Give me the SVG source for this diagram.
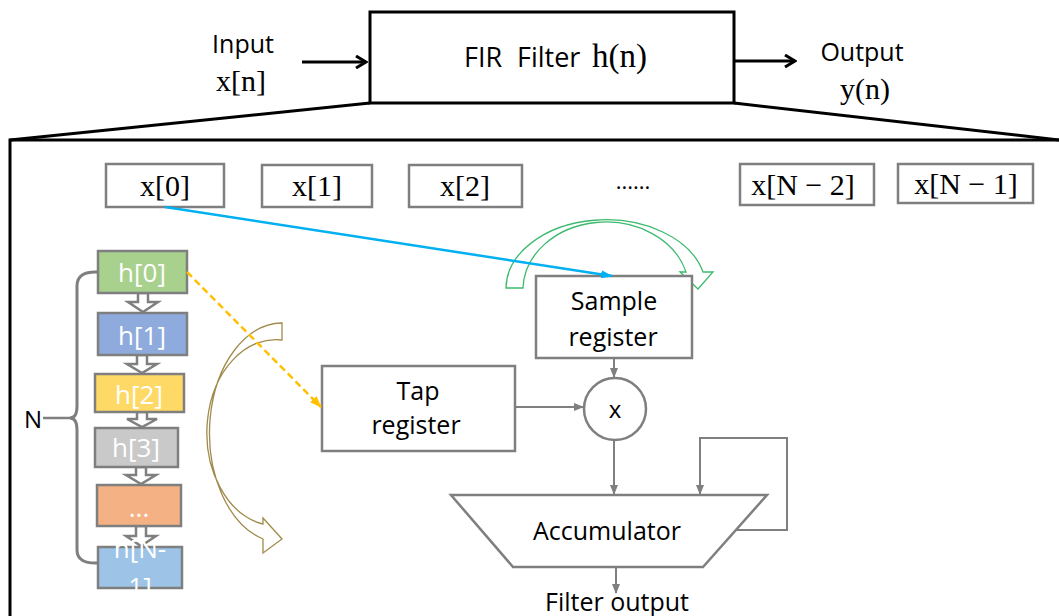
<svg xmlns="http://www.w3.org/2000/svg" width="1059" height="616" viewBox="0 0 1059 616">
<style>
.sans{font-family:"Open Sans","Liberation Sans",sans-serif;}
.serif{font-family:"Liberation Serif","DejaVu Serif",serif;}
.blk{fill:none;stroke:#000;stroke-width:3;}
.gbox{fill:#fff;stroke:#7f7f7f;stroke-width:2.5;}
.hbox{stroke:#7f7f7f;stroke-width:2.5;}
.gline{fill:none;stroke:#7f7f7f;stroke-width:2;}
.htxt{fill:#fff;font-size:26px;text-anchor:middle;}
.lbl{fill:#000;font-size:25px;text-anchor:middle;}
.xt{fill:#000;font-size:30px;text-anchor:middle;}
.blockarrow{fill:#fff;stroke:#7f7f7f;stroke-width:2.5;stroke-linejoin:miter;}
</style>
<defs>
<marker id="ag" markerWidth="10" markerHeight="8" refX="9" refY="4" orient="auto" markerUnits="userSpaceOnUse"><path d="M0,0 L10,4 L0,8 Z" fill="#7f7f7f"/></marker>
<marker id="ab" markerWidth="12" markerHeight="8" refX="11" refY="4" orient="auto" markerUnits="userSpaceOnUse"><path d="M0,0 L12,4 L0,8 Z" fill="#00b0f0"/></marker>
<marker id="ay" markerWidth="12" markerHeight="9" refX="11" refY="4.5" orient="auto" markerUnits="userSpaceOnUse"><path d="M0,0 L12,4.5 L0,9 Z" fill="#ffc000"/></marker>
<marker id="ak" markerWidth="14" markerHeight="14" refX="12" refY="7" orient="auto" markerUnits="userSpaceOnUse"><path d="M2,1 L12,7 L2,13" fill="none" stroke="#000" stroke-width="3"/></marker>
</defs>

<!-- outline / zoom lines -->
<g id="frame">
<path class="blk" d="M10,616 L10,140 L1059,140"/>
<path class="blk" d="M10,140 L370,103"/>
<path class="blk" d="M734,103 L1059,140"/>
</g>

<g id="fir">
<rect class="blk" x="370" y="12" width="364" height="91"/>
<text class="sans" font-size="27" fill="#000" y="67" xml:space="preserve"><tspan x="464">FIR  </tspan><tspan x="517">Filter </tspan><tspan class="serif" x="592" font-size="33">h(n)</tspan></text>
</g>
<g id="input">
<text class="sans lbl" x="243" y="53">Input</text>
<text class="serif xt" x="241" y="91">x[n]</text>
</g>
<g id="output">
<text class="sans lbl" x="862" y="61">Output</text>
<text class="serif xt" x="865" y="99">y(n)</text>
</g>

<g id="x0"><rect class="gbox" x="106" y="164" width="118" height="43"/><text class="serif xt" x="165" y="196">x[0]</text></g>
<g id="x1"><rect class="gbox" x="262" y="165" width="110" height="42"/><text class="serif xt" x="317" y="196">x[1]</text></g>
<g id="x2"><rect class="gbox" x="409" y="165" width="113" height="42"/><text class="serif xt" x="465" y="196">x[2]</text></g>
<g id="dots"><text class="sans" font-size="22" fill="#000" x="633" y="189" text-anchor="middle">......</text></g>
<g id="xN2"><rect class="gbox" x="740" y="164" width="134" height="41"/><text class="serif xt" x="803" y="195">x[N − 2]</text></g>
<g id="xN1"><rect class="gbox" x="898" y="164" width="135" height="39"/><text class="serif xt" x="966" y="194">x[N − 1]</text></g>

<g id="curved-arrows">
<path d="M506,288 A100,69 0 0 1 703,272 L713,272 L698,289 L680,272 L686,272 A83,68 0 0 0 523,288 Z" fill="none" stroke="#3dba6e" stroke-width="1.3"/>
<path d="M282,323 A73,110 0 0 0 263,539 L263,553 L282,539 L263,518 L263,524 A69,93 0 0 1 282,340 Z" fill="none" stroke="#a08b4c" stroke-width="1.3"/>
</g>

<g id="h-arrows">
<path class="blockarrow" d="M138,293 L148,293 L148,302 L158,302 L143,312 L128,302 L138,302 Z"/>
<path class="blockarrow" d="M137,355 L147,355 L147,364 L157,364 L142,373 L127,364 L137,364 Z"/>
<path class="blockarrow" d="M137,412 L147,412 L147,419 L157,419 L142,427 L127,419 L137,419 Z"/>
<path class="blockarrow" d="M136,467 L146,467 L146,475 L156,475 L141,484 L126,475 L136,475 Z"/>
<path class="blockarrow" d="M136,526 L146,526 L146,536 L156,536 L141,546 L126,536 L136,536 Z"/>
</g>

<g id="h0"><rect class="hbox" fill="#a9d18e" x="98" y="251" width="89" height="42"/><text class="sans htxt" x="142" y="282">h[0]</text></g>
<g id="h1"><rect class="hbox" fill="#8faadc" x="98" y="313" width="89" height="42"/><text class="sans htxt" x="142" y="345">h[1]</text></g>
<g id="h2"><rect class="hbox" fill="#ffd966" x="95" y="374" width="89" height="38"/><text class="sans htxt" x="139" y="404">h[2]</text></g>
<g id="h3"><rect class="hbox" fill="#c9c9c9" x="95" y="428" width="83" height="39"/><text class="sans htxt" x="136" y="457">h[3]</text></g>
<g id="hdots"><rect class="hbox" fill="#f4b183" x="97" y="485" width="84" height="41"/><text class="sans htxt" x="139" y="517">...</text></g>
<g id="hN1"><rect class="hbox" fill="#9dc3e6" x="98" y="547" width="84" height="41"/><text class="sans htxt" x="140" y="558">h[N-</text><text class="sans htxt" x="140" y="596">1]</text></g>

<g id="brace">
<path d="M98,272 Q77,271 77,286 L77,406 Q77,418 70,418 Q77,418 77,430 L77,550 Q77,564 98,563" fill="none" stroke="#7f7f7f" stroke-width="3"/>
<path d="M43,418 L72,418" fill="none" stroke="#7f7f7f" stroke-width="2.5"/>
<text class="sans" font-size="24" fill="#000" x="24" y="428">N</text>
</g>

<g id="tap"><rect class="gbox" x="322" y="366" width="193" height="85"/><text class="sans lbl" x="418" y="400">Tap</text><text class="sans lbl" x="416" y="434">register</text></g>
<g id="sample"><rect class="gbox" x="536" y="276" width="156" height="82"/><text class="sans lbl" x="614" y="310">Sample</text><text class="sans lbl" x="613" y="346">register</text></g>
<g id="mult"><circle class="gbox" cx="615" cy="409" r="31"/><text class="sans" font-size="24" fill="#000" x="615" y="418" text-anchor="middle">x</text></g>
<g id="acc"><path class="gbox" d="M451,495 L767,495 L703,567 L513,567 Z"/><text class="sans lbl" x="607" y="540">Accumulator</text></g>
<g id="fout"><text class="sans lbl" x="617" y="611">Filter output</text></g>

<g id="connectors">
<path class="blk" d="M302,62 L366,62" marker-end="url(#ak)"/>
<path class="blk" d="M733,61 L795,61" marker-end="url(#ak)"/>
<path d="M165,207 L612,276" fill="none" stroke="#00b0f0" stroke-width="2.5" marker-end="url(#ab)"/>
<path d="M187,272 L321,407" fill="none" stroke="#ffc000" stroke-width="2.5" stroke-dasharray="7,4" marker-end="url(#ay)"/>
<path class="gline" d="M515,407 L583,407" marker-end="url(#ag)"/>
<path class="gline" d="M614,358 L614,377" marker-end="url(#ag)"/>
<path class="gline" d="M614,440 L614,494" marker-end="url(#ag)"/>
<path class="gline" d="M735,530 L787,530 L787,438 L700,438 L700,494" marker-end="url(#ag)"/>
<path class="gline" d="M616,567 L616,593" marker-end="url(#ag)"/>
</g>
</svg>
